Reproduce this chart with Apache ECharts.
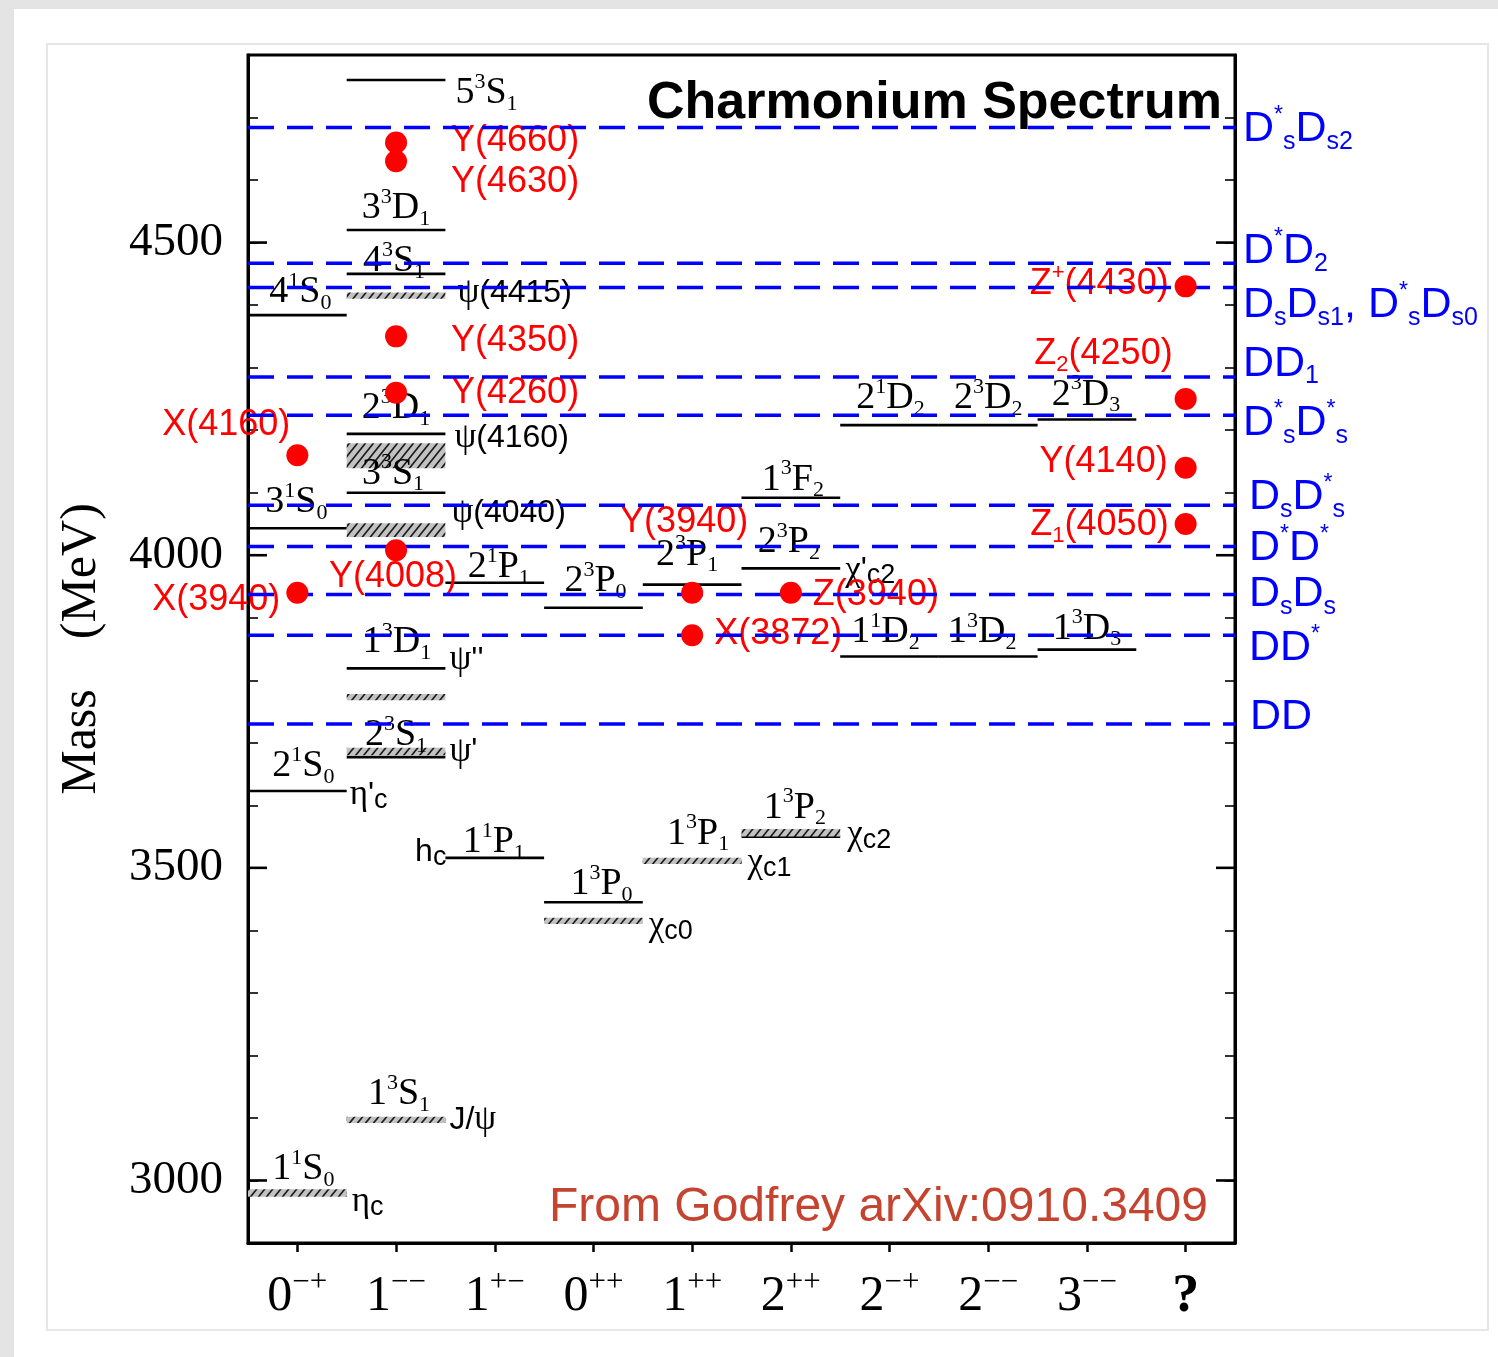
<!DOCTYPE html>
<html>
<head>
<meta charset="utf-8">
<title>Charmonium Spectrum</title>
<script src="https://cdn.jsdelivr.net/npm/echarts@6/dist/echarts.min.js"></script>
<style>
  html, body { margin: 0; padding: 0; background: #ffffff; }
  #chart { width: 1498px; height: 1357px; }
</style>
</head>
<body>
<div id="chart"></div>
<script>
// ---------------- data ----------------
// J^PC columns along the horizontal axis
const jpcLabels = ['0^{−+}', '1^{−−}', '1^{+−}', '0^{++}', '1^{++}', '2^{++}', '2^{−+}', '2^{−−}', '3^{−−}', '?'];
// labelled mass ticks (MeV)
const massTicks = [3000, 3500, 4000, 4500];

// Potential-model levels: [column, mass (MeV), term, optional state name]
const predictedLevels = [
  [0, 2980, '1^1S_0'],
  [0, 3623, '2^1S_0', "η'_c"],
  [0, 4043, '3^1S_0'],
  [0, 4384, '4^1S_0'],
  [1, 3097, '1^3S_1'],
  [1, 3677, '2^3S_1'],
  [1, 3819, '1^3D_1'],
  [1, 4100, '3^3S_1'],
  [1, 4194, '2^3D_1'],
  [1, 4450, '4^3S_1'],
  [1, 4520, '3^3D_1'],
  [1, 4760, '5^3S_1'],
  [2, 3516, '1^1P_1', 'h_c'],
  [2, 3956, '2^1P_1'],
  [3, 3445, '1^3P_0'],
  [3, 3916, '2^3P_0'],
  [4, 3510, '1^3P_1'],
  [4, 3953, '2^3P_1'],
  [5, 3550, '1^3P_2'],
  [5, 3979, '2^3P_2', "χ'_{c2}"],
  [5, 4092, '1^3F_2'],
  [6, 3838, '1^1D_2'],
  [6, 4208, '2^1D_2'],
  [7, 3838, '1^3D_2'],
  [7, 4208, '2^3D_2'],
  [8, 3849, '1^3D_3'],
  [8, 4217, '2^3D_3']
];

// Established states (hatched bands): [column, mass (MeV), half band height (MeV), name]
const observedStates = [
  [0, 2980, 6, 'η_c'],
  [1, 3097, 5, 'J/ψ'],
  [1, 3686, 6, "ψ'"],
  [1, 3773, 5, "ψ''"],
  [1, 4040, 11, 'ψ(4040)'],
  [1, 4159, 20, 'ψ(4160)'],
  [1, 4415, 5, 'ψ(4415)'],
  [3, 3415, 5, 'χ_{c0}'],
  [4, 3511, 5, 'χ_{c1}'],
  [5, 3556, 6, 'χ_{c2}']
];

// XYZ candidates: [column, mass (MeV), name]
const xyzStates = [
  [1, 4660, 'Y(4660)'],
  [1, 4630, 'Y(4630)'],
  [1, 4350, 'Y(4350)'],
  [1, 4260, 'Y(4260)'],
  [1, 4008, 'Y(4008)'],
  [0, 4160, 'X(4160)'],
  [0, 3940, 'X(3940)'],
  [4, 3940, 'Y(3940)'],
  [4, 3872, 'X(3872)'],
  [5, 3940, 'Z(3940)'],
  [9, 4430, 'Z^+(4430)'],
  [9, 4250, 'Z_2(4250)'],
  [9, 4140, 'Y(4140)'],
  [9, 4050, 'Z_1(4050)']
];

// Open-charm thresholds: [mass (MeV), channel]
const thresholds = [
  [4684, 'D^*_sD_{s2}'],
  [4467, 'D^*D_2'],
  [4428, 'D_sD_{s1}, D^*_sD_{s0}'],
  [4285, 'DD_1'],
  [4224, 'D^*_sD^*_s'],
  [4080, 'D_sD^*_s'],
  [4014, 'D^*D^*'],
  [3937, 'D_sD_s'],
  [3872, 'DD^*'],
  [3730, 'DD']
];

// ---------------- label layout (pixel offsets) ----------------
// term labels: [dx from column centre, dy of text centre from the level]
const termLayout = {
  '1^1S_0': [6, -24], '2^1S_0': [6, -25], '3^1S_0': [-1, -26], '4^1S_0': [3, -23],
  '1^3S_1': [3, -26], '2^3S_1': [0, -22], '1^3D_1': [1, -26], '3^3S_1': [-3, -19],
  '2^3D_1': [0, -26], '4^3S_1': [-2, -13], '3^3D_1': [0, -22], '5^3S_1': [10, 13, 'right'],
  '1^1P_1': [-1, -16], '2^1P_1': [4, -16], '1^3P_0': [8, -18], '2^3P_0': [2, -27],
  '1^3P_1': [6, -28], '2^3P_1': [-5, -30], '1^3P_2': [4, -29], '2^3P_2': [-2, -26],
  '1^3F_2': [2, -18], '1^1D_2': [-4, -24], '2^1D_2': [1, -27], '1^3D_2': [-6, -24],
  '2^3D_2': [0, -27], '1^3D_3': [0, -21], '2^3D_3': [-1, -25]
};
// state names: [dx from right end of the mark, dy], 'left' puts the name before the mark
const nameLayout = {
  'η_c': [5, 9], 'J/ψ': [4, 0], "ψ'": [4, 0], "ψ''": [4, -37], 'ψ(4040)': [6, -17],
  'ψ(4160)': [9, -18], 'ψ(4415)': [12, -3], 'χ_{c0}': [6, 5], 'χ_{c1}': [6, 2],
  'χ_{c2}': [7, 2], "η'_c": [3, 4], 'h_c': [1, -6, 'left'], "χ'_{c2}": [5, 2]
};
// XYZ names: [align, dx from dot, dy]
const xyzLayout = {
  'Y(4660)': ['left', 55, -1], 'Y(4630)': ['left', 55, 21], 'Y(4350)': ['left', 55, 5],
  'Y(4260)': ['left', 55, 0], 'Y(4008)': ['center', -3, 27], 'X(4160)': ['right', -7, -30],
  'X(3940)': ['right', -17, 7], 'Y(3940)': ['center', -8, -71], 'X(3872)': ['left', 22, -1],
  'Z(3940)': ['left', 22, 2], 'Z^+(4430)': ['right', -17, -2], 'Z_2(4250)': ['right', -13, -45],
  'Y(4140)': ['right', -18, -6], 'Z_1(4050)': ['right', -17, 1]
};
// threshold captions: [dx from the right frame, dy]
const thresholdLayout = [[8, 2], [8, -12], [8, 18], [8, -13], [8, 8], [14, -8], [14, 2], [14, 0], [14, 13], [15, -7]];

// ---------------- styles ----------------
const SERIF = '"Liberation Serif", "Times New Roman", serif';
const SANS = '"Liberation Sans", Arial, Helvetica, sans-serif';
const RED = '#ff0000';
const BLUE = '#0000ff';
const GREEK = /[ψηχ]/;
const font = (size, fam, weight) => (weight ? weight + ' ' : '') + size + 'px ' + fam;

// rich-text parts for text elements drawn inside custom series
const zrRich = {
  t:  { font: font(38, SERIF), lineHeight: 44, fill: '#000' },
  tu: { font: font(22, SERIF), lineHeight: 12, verticalAlign: 'top', fill: '#000' },
  td: { font: font(22, SERIF), lineHeight: 28, verticalAlign: 'bottom', fill: '#000' },
  n:  { font: font(32, SANS), lineHeight: 38, fill: '#000' },
  ng: { font: font(35, SERIF), lineHeight: 38, fill: '#000' },
  nu: { font: font(24, SANS), lineHeight: 16, verticalAlign: 'top', fill: '#000' },
  nd: { font: font(27, SANS), lineHeight: 14, verticalAlign: 'bottom', fill: '#000' },
  r:  { font: font(36, SANS), lineHeight: 44, fill: RED },
  ru: { font: font(22, SANS), lineHeight: 16, verticalAlign: 'top', fill: RED },
  rd: { font: font(22, SANS), lineHeight: 14, verticalAlign: 'bottom', fill: RED },
  b:  { font: font(43, SANS), lineHeight: 50, fill: BLUE },
  bu: { font: font(23, SANS), lineHeight: 18, verticalAlign: 'top', fill: BLUE },
  bd: { font: font(25, SANS), lineHeight: 12, verticalAlign: 'bottom', fill: BLUE }
};
// rich-text styles for the category axis labels
const axisRich = {
  x:  { fontFamily: SERIF, fontSize: 50, lineHeight: 60, color: '#000' },
  xu: { fontFamily: SERIF, fontSize: 31, lineHeight: 22, verticalAlign: 'top', color: '#000' },
  xb: { fontFamily: SERIF, fontSize: 54, fontWeight: 'bold', lineHeight: 60, color: '#000' }
};

// '^x' / '^{xy}' -> superscript, '_x' / '_{xy}' -> subscript
function toRich(markup, p) {
  let out = '', buf = '';
  const flush = () => { if (buf) { out += '{' + p + '|' + buf + '}'; buf = ''; } };
  for (let i = 0; i < markup.length;) {
    const ch = markup[i];
    if (ch === '^' || ch === '_') {
      flush();
      let grp;
      if (markup[i + 1] === '{') { const j = markup.indexOf('}', i + 2); grp = markup.slice(i + 2, j); i = j + 1; }
      else { grp = markup[i + 1]; i += 2; }
      out += '{' + p + (ch === '^' ? 'u' : 'd') + '|' + grp + '}';
    } else if (GREEK.test(ch) && zrRich[p + 'g']) {
      flush(); out += '{' + p + 'g|' + ch + '}'; i++;
    } else { buf += ch; i++; }
  }
  flush();
  return out;
}

function richText(x, y, markup, p, align) {
  return {
    type: 'text', x: x, y: y,
    style: { text: toRich(markup, p), rich: zrRich, align: align, textAlign: align,
             verticalAlign: 'middle', textVerticalAlign: 'middle' }
  };
}

// gray hatching used for the measured states
const hatch = (function () {
  const w = 8, h = 10;
  const c = document.createElement('canvas');
  c.width = w; c.height = h;
  const g = c.getContext('2d');
  g.fillStyle = '#c2c2c2'; g.fillRect(0, 0, w, h);
  g.strokeStyle = '#1a1a1a'; g.lineWidth = 1.7;
  g.beginPath();
  g.moveTo(-w, h * 2); g.lineTo(w * 2, -h);
  g.moveTo(-w, h); g.lineTo(w, -h);
  g.moveTo(0, h * 2); g.lineTo(w * 2, 0);
  g.stroke();
  return c;
})();

// ---------------- chart ----------------
const chart = echarts.init(document.getElementById('chart'), null, { renderer: 'canvas' });

const sharedY = {
  type: 'value', min: 2900, max: 4800, interval: 100,
  axisLine: { show: true, lineStyle: { color: '#000', width: 3 } },
  axisTick: { show: true, inside: true, length: 10, lineStyle: { color: '#000', width: 1.6 } },
  splitLine: { show: false }
};

const option = {
  backgroundColor: '#ffffff',
  animation: false,
  grid: {
    left: 248, top: 55, width: 987, height: 1188,
    containLabel: false, outerBoundsMode: 'none',
    show: true, borderColor: '#000', borderWidth: 3, backgroundColor: 'transparent'
  },
  xAxis: {
    type: 'category', data: jpcLabels, boundaryGap: true,
    axisLine: { show: true, lineStyle: { color: '#000', width: 3 } },
    axisTick: { show: true, alignWithLabel: true, inside: false, length: 9, lineStyle: { color: '#000', width: 2.5 } },
    axisLabel: {
      margin: 24, interval: 0,
      formatter: v => (v === '?' ? '{xb|?}' : toRich(v, 'x')),
      rich: axisRich
    },
    splitLine: { show: false }
  },
  yAxis: [
    Object.assign({}, sharedY, {
      position: 'left',
      axisLabel: {
        margin: 25, color: '#000', fontFamily: SERIF, fontSize: 47,
        formatter: v => (massTicks.indexOf(v) >= 0 ? String(v) : '')
      },
      name: 'Mass    (MeV)', nameLocation: 'middle', nameGap: 141, nameRotate: 90,
      nameTextStyle: { fontFamily: SERIF, fontSize: 50, color: '#000' }
    }),
    Object.assign({}, sharedY, { position: 'right', axisLabel: { show: false } })
  ],
  graphic: [
    // page frame
    { type: 'rect', z: -10, shape: { x: 0, y: 0, width: 1498, height: 9 }, style: { fill: '#e4e4e4' } },
    { type: 'rect', z: -10, shape: { x: 0, y: 0, width: 14, height: 1357 }, style: { fill: '#e4e4e4' } },
    { type: 'rect', z: -9, shape: { x: 47, y: 44, width: 1441, height: 1286 },
      style: { fill: 'none', stroke: '#e6e6e6', lineWidth: 2 } },
    // title and source
    { type: 'text', z: 10, x: 1222, y: 104,
      style: { text: 'Charmonium Spectrum', font: font(52, SANS, 'bold'), fill: '#000',
               align: 'right', textAlign: 'right', verticalAlign: 'middle', textVerticalAlign: 'middle' } },
    { type: 'text', z: 10, x: 1208, y: 1208,
      style: { text: 'From Godfrey arXiv:0910.3409', font: font(48, SANS), fill: '#c4442f',
               align: 'right', textAlign: 'right', verticalAlign: 'middle', textVerticalAlign: 'middle' } }
  ],
  series: [
    // long ticks at the labelled masses, on both frames
    {
      type: 'custom', z: 2, clip: false,
      data: massTicks.map(m => [0, m]),
      renderItem: function (params, api) {
        const cs = params.coordSys;
        const y = api.coord([0, api.value(1)])[1];
        return { type: 'group', children: [
          { type: 'line', shape: { x1: cs.x, y1: y, x2: cs.x + 19, y2: y }, style: { stroke: '#000', lineWidth: 2.6 } },
          { type: 'line', shape: { x1: cs.x + cs.width - 19, y1: y, x2: cs.x + cs.width, y2: y }, style: { stroke: '#000', lineWidth: 2.6 } }
        ] };
      }
    },
    // predicted levels
    {
      type: 'custom', z: 2, clip: false,
      data: predictedLevels.map(d => [d[0], d[1]]),
      renderItem: function (params, api) {
        const c = api.coord([api.value(0), api.value(1)]);
        const half = api.size([1, 0])[0] / 2;
        return { type: 'line', shape: { x1: c[0] - half, y1: c[1], x2: c[0] + half, y2: c[1] },
                 style: { stroke: '#000', lineWidth: 2.6 } };
      }
    },
    // measured states as hatched bands
    {
      type: 'custom', z: 3, clip: false,
      data: observedStates.map(d => [d[0], d[1], d[2]]),
      renderItem: function (params, api) {
        const col = api.value(0), m = api.value(1), hw = api.value(2);
        const c = api.coord([col, m]);
        const half = api.size([1, 0])[0] / 2;
        const top = api.coord([col, m + hw])[1], bot = api.coord([col, m - hw])[1];
        return { type: 'rect', shape: { x: c[0] - half, y: top, width: half * 2, height: bot - top },
                 style: { fill: { image: hatch, repeat: 'repeat' } } };
      }
    },
    // term labels and state names
    {
      type: 'custom', z: 4, clip: false,
      data: predictedLevels.map(d => [d[0], d[1]]),
      renderItem: function (params, api) {
        const lv = predictedLevels[params.dataIndex];
        const c = api.coord([api.value(0), api.value(1)]);
        const half = api.size([1, 0])[0] / 2;
        const lay = termLayout[lv[2]];
        const children = [];
        if (lay[2] === 'right') children.push(richText(c[0] + half + lay[0], c[1] + lay[1], lv[2], 't', 'left'));
        else children.push(richText(c[0] + lay[0], c[1] + lay[1], lv[2], 't', 'center'));
        if (lv[3]) {
          const nl = nameLayout[lv[3]];
          if (nl[2] === 'left') children.push(richText(c[0] - half + nl[0], c[1] + nl[1], lv[3], 'n', 'right'));
          else children.push(richText(c[0] + half + nl[0], c[1] + nl[1], lv[3], 'n', 'left'));
        }
        return { type: 'group', children: children };
      }
    },
    {
      type: 'custom', z: 4, clip: false,
      data: observedStates.map(d => [d[0], d[1]]),
      renderItem: function (params, api) {
        const st = observedStates[params.dataIndex];
        const c = api.coord([api.value(0), api.value(1)]);
        const half = api.size([1, 0])[0] / 2;
        const nl = nameLayout[st[3]];
        return richText(c[0] + half + nl[0], c[1] + nl[1], st[3], 'n', 'left');
      }
    },
    // XYZ names
    {
      type: 'custom', z: 4, clip: false,
      data: xyzStates.map(d => [d[0], d[1]]),
      renderItem: function (params, api) {
        const st = xyzStates[params.dataIndex];
        const c = api.coord([api.value(0), api.value(1)]);
        const lay = xyzLayout[st[2]];
        return richText(c[0] + lay[1], c[1] + lay[2], st[2], 'r', lay[0]);
      }
    },
    // thresholds
    {
      type: 'custom', z: 5, clip: false,
      data: thresholds.map(d => [0, d[0]]),
      renderItem: function (params, api) {
        const cs = params.coordSys;
        const y = api.coord([0, api.value(1)])[1];
        const lay = thresholdLayout[params.dataIndex];
        return { type: 'group', children: [
          { type: 'line', shape: { x1: cs.x, y1: y, x2: cs.x + cs.width, y2: y },
            style: { stroke: BLUE, lineWidth: 3.5, lineDash: [26, 13] } },
          richText(cs.x + cs.width + lay[0], y + lay[1], thresholds[params.dataIndex][1], 'b', 'left')
        ] };
      }
    },
    // XYZ dots
    {
      type: 'custom', z: 6, clip: false,
      data: xyzStates.map(d => [d[0], d[1]]),
      renderItem: function (params, api) {
        const c = api.coord([api.value(0), api.value(1)]);
        return { type: 'circle', shape: { cx: c[0], cy: c[1], r: 11 }, style: { fill: RED } };
      }
    }
  ]
};

chart.setOption(option);
</script>
</body>
</html>
